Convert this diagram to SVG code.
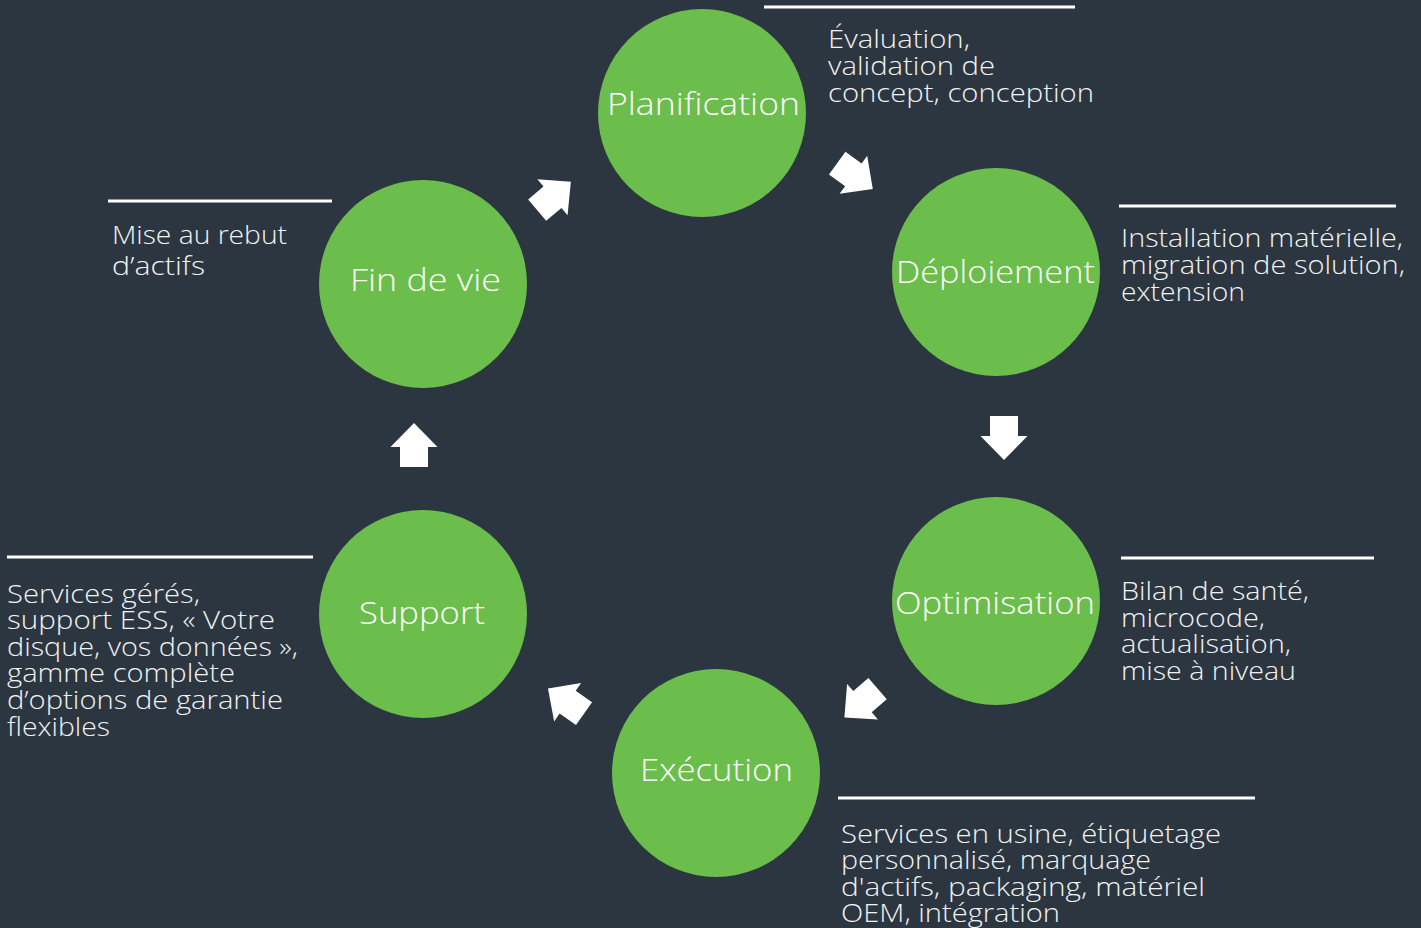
<svg xmlns="http://www.w3.org/2000/svg" width="1421" height="928" viewBox="0 0 1421 928">
<style>
.node{fill:#6BBE4B}
.lbl{font-family:"Open Sans","Lato","Liberation Sans",sans-serif;font-weight:300;font-size:31px;fill:#FFFFFF;text-anchor:middle}
.desc{font-family:"Open Sans","Lato","Liberation Sans",sans-serif;font-weight:300;font-size:25px;fill:#F2F2F2}
.rule{stroke:#FFFFFF;stroke-width:3}
.arr{fill:#FFFFFF}
</style>
<defs>
<path id="ar" d="M-14,-22 H14 V-2 H23.5 L0,22 L-23.5,-2 H-14 Z"/>
</defs>
<rect width="1421" height="928" fill="#2B3640"/>

<g id="connectors" class="arr">
<use href="#ar" transform="translate(855,176) rotate(-54)"/>
<use href="#ar" transform="translate(1004,438)"/>
<use href="#ar" transform="translate(861,703) rotate(49)"/>
<use href="#ar" transform="translate(566,701) rotate(125)"/>
<use href="#ar" transform="translate(414,445) rotate(180)"/>
<use href="#ar" transform="translate(554,196) rotate(-130)"/>
</g>

<g id="planification">
<circle class="node" cx="702" cy="113" r="104"/>
<text class="lbl" x="703.5" y="115" textLength="193" lengthAdjust="spacingAndGlyphs">Planification</text>
<line class="rule" x1="764" y1="7" x2="1075" y2="7"/>
<text class="desc" x="828" y="48" textLength="142" lengthAdjust="spacingAndGlyphs">Évaluation,</text>
<text class="desc" x="828" y="75" textLength="167" lengthAdjust="spacingAndGlyphs">validation de</text>
<text class="desc" x="828" y="102" textLength="266" lengthAdjust="spacingAndGlyphs">concept, conception</text>
</g>

<g id="deploiement">
<circle class="node" cx="996" cy="272" r="104"/>
<text class="lbl" x="995.5" y="283" textLength="199" lengthAdjust="spacingAndGlyphs">Déploiement</text>
<line class="rule" x1="1119" y1="206" x2="1396" y2="206"/>
<text class="desc" x="1121" y="247" textLength="282" lengthAdjust="spacingAndGlyphs">Installation matérielle,</text>
<text class="desc" x="1121" y="274" textLength="284" lengthAdjust="spacingAndGlyphs">migration de solution,</text>
<text class="desc" x="1121" y="301" textLength="124" lengthAdjust="spacingAndGlyphs">extension</text>
</g>

<g id="optimisation">
<circle class="node" cx="996" cy="601" r="104"/>
<text class="lbl" x="995" y="614" textLength="200" lengthAdjust="spacingAndGlyphs">Optimisation</text>
<line class="rule" x1="1121" y1="558" x2="1374" y2="558"/>
<text class="desc" x="1121" y="600" textLength="188" lengthAdjust="spacingAndGlyphs">Bilan de santé,</text>
<text class="desc" x="1121" y="627" textLength="144" lengthAdjust="spacingAndGlyphs">microcode,</text>
<text class="desc" x="1121" y="653" textLength="170" lengthAdjust="spacingAndGlyphs">actualisation,</text>
<text class="desc" x="1121" y="680" textLength="175" lengthAdjust="spacingAndGlyphs">mise à niveau</text>
</g>

<g id="execution">
<circle class="node" cx="716" cy="773" r="104"/>
<text class="lbl" x="716.5" y="781" textLength="153" lengthAdjust="spacingAndGlyphs">Exécution</text>
<line class="rule" x1="838" y1="798" x2="1255" y2="798"/>
<text class="desc" x="841" y="843" textLength="380" lengthAdjust="spacingAndGlyphs">Services en usine, étiquetage</text>
<text class="desc" x="841" y="869" textLength="310" lengthAdjust="spacingAndGlyphs">personnalisé, marquage</text>
<text class="desc" x="841" y="896" textLength="364" lengthAdjust="spacingAndGlyphs">d'actifs, packaging, matériel</text>
<text class="desc" x="841" y="922" textLength="219" lengthAdjust="spacingAndGlyphs">OEM, intégration</text>
</g>

<g id="support">
<circle class="node" cx="423" cy="614" r="104"/>
<text class="lbl" x="422" y="624" textLength="126" lengthAdjust="spacingAndGlyphs">Support</text>
<line class="rule" x1="7" y1="557" x2="313" y2="557"/>
<text class="desc" x="7" y="603" textLength="193" lengthAdjust="spacingAndGlyphs">Services gérés,</text>
<text class="desc" x="7" y="629" textLength="268" lengthAdjust="spacingAndGlyphs">support ESS, « Votre</text>
<text class="desc" x="7" y="656" textLength="291" lengthAdjust="spacingAndGlyphs">disque, vos données »,</text>
<text class="desc" x="7" y="682" textLength="228" lengthAdjust="spacingAndGlyphs">gamme complète</text>
<text class="desc" x="7" y="709" textLength="276" lengthAdjust="spacingAndGlyphs">d’options de garantie</text>
<text class="desc" x="7" y="736" textLength="103" lengthAdjust="spacingAndGlyphs">flexibles</text>
</g>

<g id="fin-de-vie">
<circle class="node" cx="423" cy="284" r="104"/>
<text class="lbl" x="425.5" y="291" textLength="151" lengthAdjust="spacingAndGlyphs">Fin de vie</text>
<line class="rule" x1="108" y1="201" x2="332" y2="201"/>
<text class="desc" x="112" y="244" textLength="175" lengthAdjust="spacingAndGlyphs">Mise au rebut</text>
<text class="desc" x="112" y="275" textLength="93" lengthAdjust="spacingAndGlyphs">d’actifs</text>
</g>
</svg>
